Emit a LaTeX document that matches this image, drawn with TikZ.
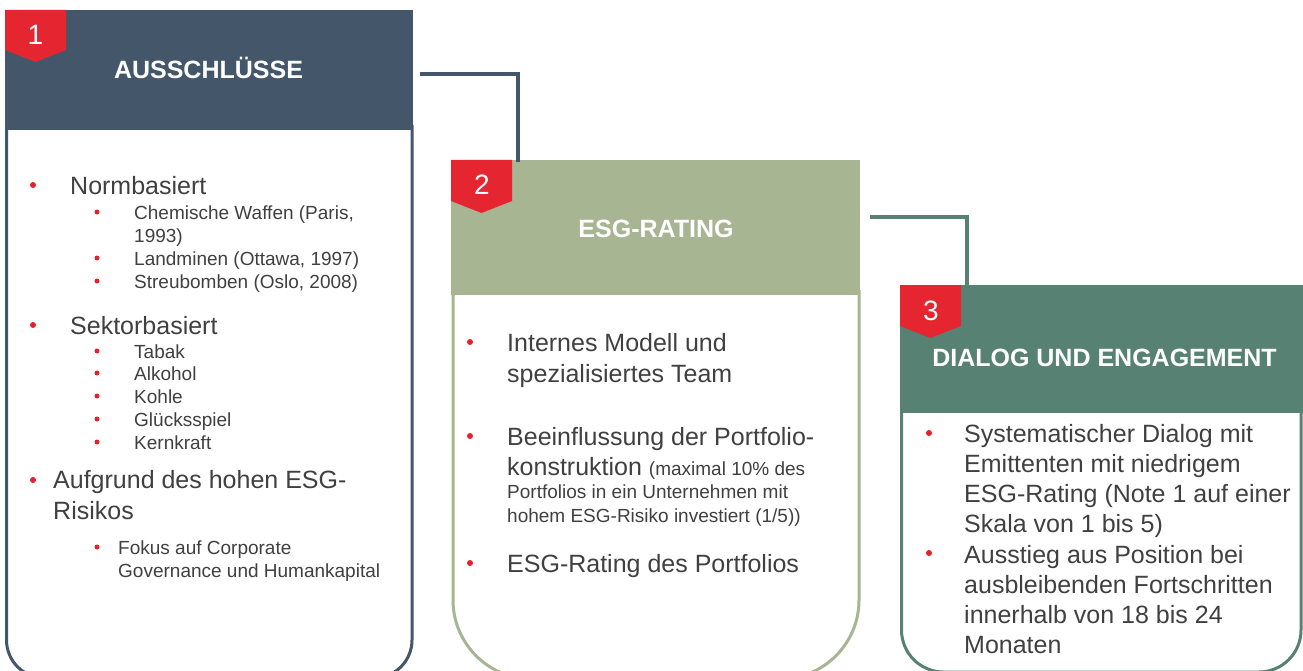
\documentclass[tikz,border=0pt]{standalone}
\usepackage{fontspec}
\setmainfont{Liberation Sans}
\definecolor{slate}{HTML}{43566A}
\definecolor{sage}{HTML}{A7B592}
\definecolor{tealthree}{HTML}{578273}
\definecolor{badgered}{HTML}{E52530}
\definecolor{txtgray}{HTML}{404040}
\definecolor{bulred}{HTML}{E8202A}
\tikzset{
 bigtxt/.style={font=\fontsize{25}{30}\selectfont, text=txtgray, inner sep=0pt, anchor=base west},
 smalltxt/.style={font=\fontsize{19}{23}\selectfont, text=txtgray, inner sep=0pt, anchor=base west},
 titletxt/.style={font=\fontsize{25}{30}\selectfont\bfseries, text=white, inner sep=0pt, anchor=base},
 badgenum/.style={font=\fontsize{28}{30}\selectfont, text=white, inner sep=0pt, anchor=base},
 bigdot/.style={circle, fill=bulred, inner sep=0pt, minimum size=6pt},
 smalldot/.style={circle, fill=bulred, inner sep=0pt, minimum size=5pt},
 header/.style={inner sep=0pt, anchor=north west, draw=none},
 connector/.style={line width=4pt, line join=miter},
 panelborder/.style={line width=3pt},
 badge/.style={fill=badgered},
}
\begin{document}
\begin{tikzpicture}[x=1pt,y=-1pt]
\useasboundingbox (0,0) rectangle (1303,671);
\clip (0,0) rectangle (1303,671);
\fill[white] (0,0) rectangle (1303,671);

% ---------- Panel 1 ----------
\draw[panelborder, slate, rounded corners=38pt] (6.5,125) -- (6.5,678) -- (412,678) -- (412,125);
\node[header, fill=slate, minimum width=408pt, minimum height=120pt] (h1) at (5,10) {};
\fill[badge] (5,10) -- (66,10) -- (66,50) -- (35.5,62) -- (5,50) -- cycle;
\node[badgenum] (n1) at (35.5,45) {1};
\node[titletxt] (t1) at (208.5,79) {AUSSCHLÜSSE};

\node[bigdot] (p1b1) at (33,185) {};
\node[bigtxt] (p1l1) at (70,194) {Normbasiert};
\node[smalldot] (p1s1) at (97,212) {};
\node[smalltxt] (p1l2) at (134,219) {Chemische Waffen (Paris,};
\node[smalltxt] (p1l3) at (134,242) {1993)};
\node[smalldot] (p1s2) at (97,258) {};
\node[smalltxt] (p1l4) at (134,265) {Landminen (Ottawa, 1997)};
\node[smalldot] (p1s3) at (97,281) {};
\node[smalltxt] (p1l5) at (134,288) {Streubomben (Oslo, 2008)};

\node[bigdot] (p1b2) at (33,325) {};
\node[bigtxt] (p1l6) at (70,334) {Sektorbasiert};
\node[smalldot] (p1s4) at (97,351) {};
\node[smalltxt] (p1l7) at (134,358) {Tabak};
\node[smalldot] (p1s5) at (97,373) {};
\node[smalltxt] (p1l8) at (134,380) {Alkohol};
\node[smalldot] (p1s6) at (97,396) {};
\node[smalltxt] (p1l9) at (134,403) {Kohle};
\node[smalldot] (p1s7) at (97,419) {};
\node[smalltxt] (p1l10) at (134,426) {Glücksspiel};
\node[smalldot] (p1s8) at (97,442) {};
\node[smalltxt] (p1l11) at (134,449) {Kernkraft};

\node[bigdot] (p1b3) at (33,480) {};
\node[bigtxt] (p1l12) at (53,488) {Aufgrund des hohen ESG-};
\node[bigtxt] (p1l13) at (53,519) {Risikos};
\node[smalldot] (p1s9) at (97,547) {};
\node[smalltxt] (p1l14) at (118,554) {Fokus auf Corporate};
\node[smalltxt] (p1l15) at (118,577) {Governance und Humankapital};

% ---------- Panel 2 ----------
\draw[panelborder, sage, rounded corners=79pt] (453,290) -- (453,679) -- (859,679) -- (859,290);
\node[header, fill=sage, minimum width=409pt, minimum height=135pt] (h2) at (451,160) {};
\fill[badge] (451,160) -- (512,160) -- (512,201) -- (481.5,213) -- (451,201) -- cycle;
\node[badgenum] (n2) at (482,195) {2};
\node[titletxt] (t2) at (656,237) {ESG-RATING};

\node[bigdot] (p2b1) at (470,342) {};
\node[bigtxt] (p2l1) at (507,351) {Internes Modell und};
\node[bigtxt] (p2l2) at (507,382) {spezialisiertes Team};
\node[bigdot] (p2b2) at (470,436) {};
\node[bigtxt] (p2l3) at (507,445) {Beeinflussung der Portfolio-};
\node[bigtxt] (p2l4) at (507,475) {konstruktion {\fontsize{19}{23}\selectfont (maximal 10\% des}};
\node[smalltxt] (p2l5) at (507,498) {Portfolios in ein Unternehmen mit};
\node[smalltxt] (p2l6) at (507,522) {hohem ESG-Risiko investiert (1/5))};
\node[bigdot] (p2b3) at (470,563) {};
\node[bigtxt] (p2l7) at (507,572) {ESG-Rating des Portfolios};

% ---------- Panel 3 ----------
\draw[panelborder, tealthree, rounded corners=42pt] (901.5,408) -- (901.5,672) -- (1301,672) -- (1301,408);
\node[header, fill=tealthree, minimum width=403pt, minimum height=128pt] (h3) at (900,285) {};
\fill[badge] (900,285) -- (961,285) -- (961,326) -- (930.5,338) -- (900,326) -- cycle;
\node[badgenum] (n3) at (931,320) {3};
\node[titletxt] (t3) at (1104.5,366) {DIALOG UND ENGAGEMENT};

\node[bigdot] (p3b1) at (929,433) {};
\node[bigtxt] (p3l1) at (964,442) {Systematischer Dialog mit};
\node[bigtxt] (p3l2) at (964,472) {Emittenten mit niedrigem};
\node[bigtxt] (p3l3) at (964,502) {ESG-Rating (Note 1 auf einer};
\node[bigtxt] (p3l4) at (964,532) {Skala von 1 bis 5)};
\node[bigdot] (p3b2) at (929,553) {};
\node[bigtxt] (p3l5) at (964,563) {Ausstieg aus Position bei};
\node[bigtxt] (p3l6) at (964,593) {ausbleibenden Fortschritten};
\node[bigtxt] (p3l7) at (964,623) {innerhalb von 18 bis 24};
\node[bigtxt] (p3l8) at (964,653) {Monaten};

% ---------- Connectors ----------
\coordinate (c1a) at (420,74);
\coordinate (c1b) at (518,162);
\draw[connector, slate] (c1a) -| (c1b);
\coordinate (c2a) at (870,217);
\coordinate (c2b) at (967,285);
\draw[connector, tealthree] (c2a) -| (c2b);
\end{tikzpicture}
\end{document}
